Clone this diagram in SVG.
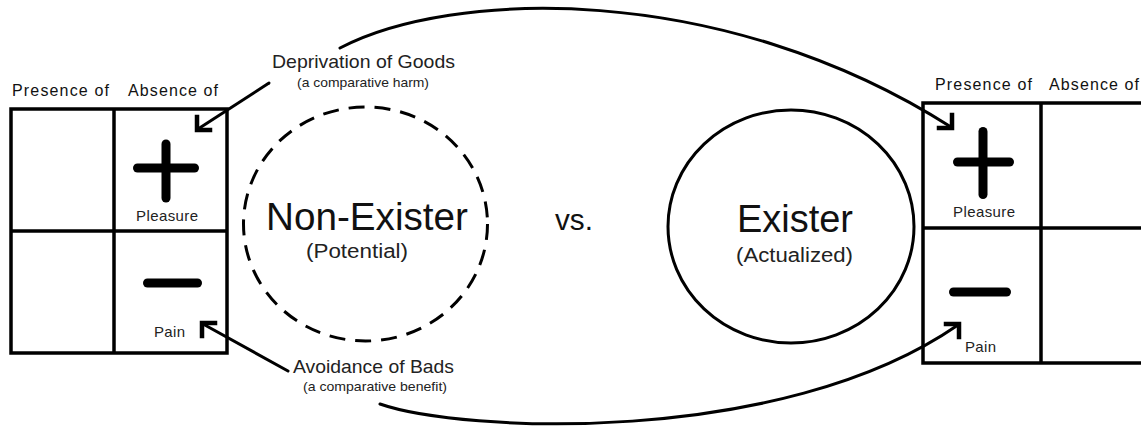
<svg xmlns="http://www.w3.org/2000/svg" xmlns:xlink="http://www.w3.org/1999/xlink" width="1141" height="429" viewBox="0 0 1141 429">
<style>
.bg{fill:#fff}
.grid{fill:none;stroke:#000;stroke-width:3.5}
.sym{fill:none;stroke:#000;stroke-width:9;stroke-linecap:round}
.t{font-family:"Liberation Sans",Arial,Helvetica,sans-serif;fill:#111}
.hdr{font-size:16px}
.cell{font-size:15px;fill:#222}
.big{font-size:38px}
.sub{font-size:20px;fill:#222}
.lab{font-size:19px;fill:#222}
.small{font-size:13.5px;fill:#222}
.conn{fill:none;stroke:#000;stroke-width:3;stroke-linecap:round}
.head{fill:none;stroke:#000;stroke-width:4.5;stroke-linecap:square;stroke-linejoin:miter}
</style>
<defs>
<path id="chev" d="M13,0 L0,0 L0,-13"/>
</defs>
<rect class="bg" x="0" y="0" width="1141" height="429"/>

<g id="left-grid">
<text class="t hdr" x="12" y="96" textLength="97" lengthAdjust="spacing">Presence of</text>
<text class="t hdr" x="128" y="96" textLength="90" lengthAdjust="spacing">Absence of</text>
<rect class="grid" x="11" y="109" width="216" height="244"/>
<line class="grid" x1="114" y1="109" x2="114" y2="353"/>
<line class="grid" x1="11" y1="231" x2="227" y2="231"/>
<line class="sym" x1="166" y1="144" x2="166" y2="198"/>
<line class="sym" x1="137.5" y1="168" x2="194.5" y2="168"/>
<text class="t cell" x="167" y="221" text-anchor="middle" textLength="62" lengthAdjust="spacing">Pleasure</text>
<line class="sym" x1="147.5" y1="283" x2="197.5" y2="283"/>
<text class="t cell" x="154" y="337" textLength="31" lengthAdjust="spacing">Pain</text>
</g>

<g id="right-grid">
<text class="t hdr" x="935" y="90" textLength="97" lengthAdjust="spacing">Presence of</text>
<text class="t hdr" x="1049" y="90" textLength="90" lengthAdjust="spacing">Absence of</text>
<rect class="grid" x="923" y="103" width="240" height="260"/>
<line class="grid" x1="1041" y1="103" x2="1041" y2="363"/>
<line class="grid" x1="923" y1="228" x2="1141" y2="228"/>
<line class="sym" x1="983" y1="131.5" x2="983" y2="194.5"/>
<line class="sym" x1="957.5" y1="162" x2="1009.5" y2="162"/>
<text class="t cell" x="984" y="217" text-anchor="middle" textLength="62" lengthAdjust="spacing">Pleasure</text>
<line class="sym" x1="953.5" y1="292" x2="1006.5" y2="292"/>
<text class="t cell" x="965" y="352" textLength="31" lengthAdjust="spacing">Pain</text>
</g>

<g id="non-exister">
<ellipse cx="365.5" cy="224" rx="122" ry="117" fill="none" stroke="#000" stroke-width="3" stroke-dasharray="16 10"/>
<text class="t big" x="367" y="230" text-anchor="middle" textLength="202" lengthAdjust="spacingAndGlyphs">Non-Exister</text>
<text class="t sub" x="357" y="258" text-anchor="middle" textLength="102" lengthAdjust="spacingAndGlyphs">(Potential)</text>
</g>

<g id="vs">
<text class="t" x="555" y="230" font-size="30" textLength="38" lengthAdjust="spacingAndGlyphs">vs.</text>
</g>

<g id="exister">
<ellipse cx="791" cy="226.5" rx="123" ry="116.5" fill="none" stroke="#000" stroke-width="3"/>
<text class="t big" x="795" y="232" text-anchor="middle" textLength="116" lengthAdjust="spacingAndGlyphs">Exister</text>
<text class="t sub" x="794.5" y="262" text-anchor="middle" textLength="117" lengthAdjust="spacingAndGlyphs">(Actualized)</text>
</g>

<g id="deprivation-label">
<text class="t lab" x="363.5" y="68" text-anchor="middle" textLength="183" lengthAdjust="spacingAndGlyphs">Deprivation of Goods</text>
<text class="t small" x="363" y="87" text-anchor="middle" textLength="132" lengthAdjust="spacingAndGlyphs">(a comparative harm)</text>
</g>

<g id="avoidance-label">
<text class="t lab" x="373.5" y="373" text-anchor="middle" textLength="161" lengthAdjust="spacingAndGlyphs">Avoidance of Bads</text>
<text class="t small" x="375" y="391" text-anchor="middle" textLength="144" lengthAdjust="spacingAndGlyphs">(a comparative benefit)</text>
</g>

<g id="connectors">
<line class="conn" x1="269" y1="83" x2="198" y2="129"/>
<use xlink:href="#chev" href="#chev" class="head" transform="translate(197,130)"/>
<line class="conn" x1="288" y1="371" x2="203" y2="324"/>
<use xlink:href="#chev" href="#chev" class="head" transform="translate(202,323) rotate(90)"/>
<path class="conn" d="M340,48 C450,-10 720,-20 951,127"/>
<use xlink:href="#chev" href="#chev" class="head" transform="translate(952,128) rotate(-90)"/>
<path class="conn" d="M380,404 C460,432 780,448 958,325"/>
<use xlink:href="#chev" href="#chev" class="head" transform="translate(959,324) rotate(180)"/>
</g>
</svg>
